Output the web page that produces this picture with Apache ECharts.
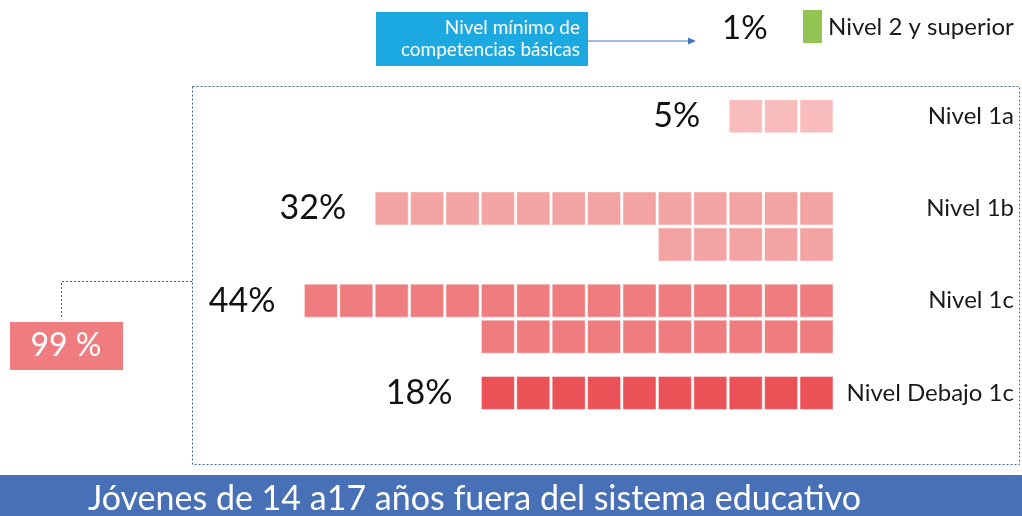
<!DOCTYPE html>
<html>
<head>
<meta charset="utf-8">
<title>Jóvenes fuera del sistema educativo</title>
<script src="https://cdn.jsdelivr.net/npm/echarts@6.0.0/dist/echarts.min.js"></script>
<style>
  html, body { margin: 0; padding: 0; background: #fff; }
  #chart { width: 1022px; height: 516px; }
</style>
</head>
<body>
<div id="chart"></div>
<script>
// data
const levels = ['Nivel 1a', 'Nivel 1b', 'Nivel 1c', 'Nivel Debajo 1c'];
const percents = [5, 32, 44, 18];
// squares per row for each level (first row, then second row)
const rowCells = [[3], [13, 5], [15, 10], [10]];
const topLevel = 'Nivel 2 y superior';
const topPercent = 1;
const belowMinimum = 99;
const boxLines = ['Nivel mínimo de', 'competencias básicas'];
const footer = 'Jóvenes de 14 a17 años fuera del sistema educativo';

const levelColors = ['#F8BCBC', '#F3A3A1', '#EF7C7E', '#EB5257'];
const FONT = 'Lato, "Noto Sans", sans-serif';

// one item per square: [column from the right, level index, row]
const cells = [];
rowCells.forEach((rows, lvl) => {
  rows.forEach((n, r) => {
    for (let c = 0; c < n; c++) cells.push([c, lvl, r]);
  });
});

const chart = echarts.init(document.getElementById('chart'));

const renderCell = (params, api) => {
  const c = api.value(0);
  const lvl = api.value(1);
  const r = api.value(2);
  const pitch = api.size([1, 0])[0];
  const gap = 2.4;
  const side = pitch - gap;
  const left = api.coord([c + 1, lvl]);
  const x = left[0] + gap;
  const y = left[1] - side / 2 + r * (side + 3);
  const children = [{
    type: 'rect',
    shape: { x: x, y: y, width: side, height: side },
    style: { fill: levelColors[lvl], stroke: 'rgba(255,255,255,0.45)', lineWidth: 1 }
  }];
  if (r === 0 && c === rowCells[lvl][0] - 1) {
    children.push({
      type: 'text',
      x: x - 29,
      y: left[1],
      style: {
        text: percents[lvl] + '%',
        fill: '#111',
        font: '34px ' + FONT,
        align: 'right',
        verticalAlign: 'middle'
      }
    });
  }
  return { type: 'group', children: children };
};

const dashed = { stroke: '#3E64B0', lineWidth: 1, lineDash: [2, 2], fill: null };

chart.setOption({
  animation: false,
  grid: { left: 302, right: 189, top: 70, bottom: 77 },
  xAxis: {
    type: 'value',
    min: 0,
    max: 15,
    inverse: true,
    show: false
  },
  yAxis: {
    type: 'category',
    data: levels,
    inverse: true,
    position: 'right',
    axisLine: { show: false },
    axisTick: { show: false },
    splitLine: { show: false },
    axisLabel: {
      align: 'right',
      margin: 181,
      color: '#1a1a1a',
      fontSize: 24,
      fontFamily: FONT
    }
  },
  series: [{
    type: 'custom',
    renderItem: renderCell,
    encode: { x: 0, y: 1 },
    data: cells
  }],
  graphic: [
    // blue box with arrow
    { type: 'rect', shape: { x: 376, y: 12, width: 212, height: 54 }, style: { fill: '#1CA9E1' } },
    { type: 'text', x: 580, y: 28, style: { text: boxLines[0], fill: '#fff', font: '19px ' + FONT, align: 'right', verticalAlign: 'middle' } },
    { type: 'text', x: 580, y: 50, style: { text: boxLines[1], fill: '#fff', font: '19px ' + FONT, align: 'right', verticalAlign: 'middle' } },
    { type: 'line', shape: { x1: 588, y1: 41, x2: 690, y2: 41 }, style: { stroke: '#4472C4', lineWidth: 1 } },
    { type: 'polygon', shape: { points: [[696, 41], [688, 37.5], [688, 44.5]] }, style: { fill: '#4472C4' } },
    { type: 'text', x: 722, y: 28, style: { text: topPercent + '%', fill: '#111', font: '33px ' + FONT, verticalAlign: 'middle' } },
    { type: 'rect', shape: { x: 803, y: 10, width: 19, height: 33 }, style: { fill: '#92C353' } },
    { type: 'text', x: 828, y: 27, style: { text: topLevel, fill: '#1a1a1a', font: '24px ' + FONT, verticalAlign: 'middle' } },
    // dashed frame and connector
    { type: 'rect', shape: { x: 192.5, y: 86.5, width: 827, height: 378 }, style: dashed },
    { type: 'polyline', shape: { points: [[192, 281.5], [61.5, 281.5], [61.5, 318]] }, style: dashed },
    // total box
    { type: 'rect', shape: { x: 10, y: 322, width: 113, height: 48 }, style: { fill: '#EF7C7E' } },
    { type: 'text', x: 66, y: 346, style: { text: belowMinimum + ' %', fill: '#fff', font: '32px ' + FONT, align: 'center', verticalAlign: 'middle' } },
    // footer banner
    { type: 'rect', shape: { x: 0, y: 475, width: 1022, height: 41 }, style: { fill: '#4770B6' } },
    { type: 'text', x: 88, y: 499, style: { text: footer, fill: '#fff', font: '34px ' + FONT, verticalAlign: 'middle' } }
  ]
});

window.addEventListener('resize', () => chart.resize());
</script>
</body>
</html>
